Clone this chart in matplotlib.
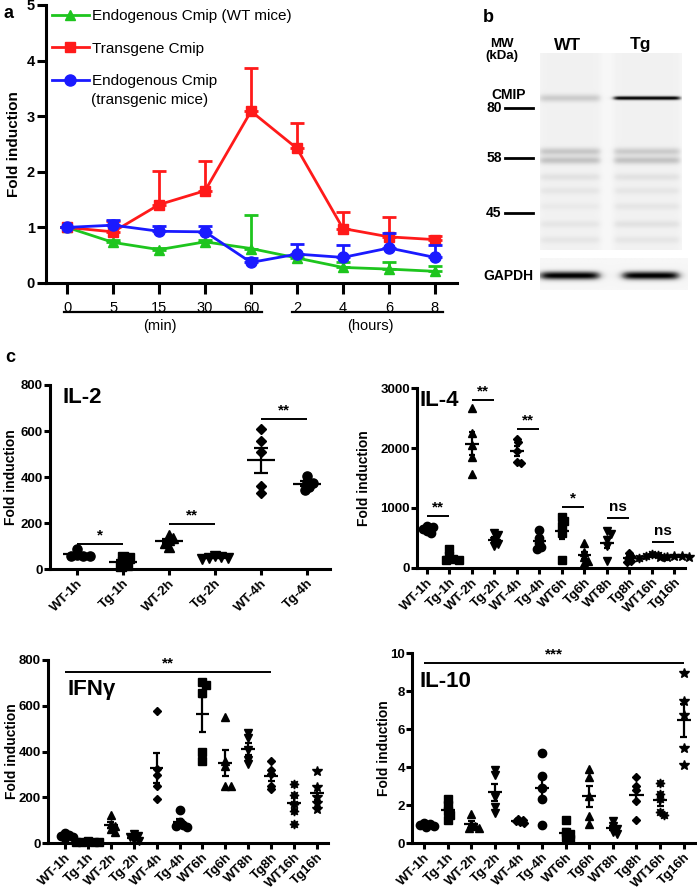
import numpy as np
import matplotlib
matplotlib.use("Agg")
import matplotlib.pyplot as plt
from matplotlib.transforms import ScaledTranslation

plt.rcParams['font.family'] = ['Liberation Sans', 'DejaVu Sans']

# ---------------- data: panel a ----------------
time_labels = ["0", "5", "15", "30", "60", "2", "4", "6", "8"]
wt_endo_mean = [1.0, 0.73, 0.60, 0.74, 0.62, 0.45, 0.28, 0.25, 0.21]
wt_endo_err = [0.0, 0.05, 0.03, 0.04, 0.60, 0.05, 0.09, 0.12, 0.09]
tg_trans_mean = [1.0, 0.92, 1.41, 1.66, 3.09, 2.42, 0.98, 0.83, 0.78]
tg_trans_err = [0.0, 0.20, 0.61, 0.53, 0.77, 0.46, 0.29, 0.35, 0.06]
tg_endo_mean = [1.0, 1.04, 0.93, 0.92, 0.37, 0.52, 0.46, 0.63, 0.46]
tg_endo_err = [0.0, 0.10, 0.10, 0.10, 0.08, 0.18, 0.22, 0.27, 0.22]
series_labels = ["Endogenous Cmip (WT mice)", "Transgene Cmip",
                 "Endogenous Cmip"]
series_label_extra = "(transgenic mice)"

# ---------------- data: panel b (blot) ----------------
blot_lanes = ["WT", "Tg"]
mw_labels = ["80", "58", "45"]
mw_pos = [0.279, 0.533, 0.812]           # migration (fraction of blot height)
band_pos = [0.228, 0.50, 0.545, 0.63, 0.70, 0.78, 0.87, 0.95]
band_wt = [0.20, 0.22, 0.24, 0.09, 0.07, 0.05, 0.07, 0.07]
band_tg = [0.95, 0.20, 0.24, 0.09, 0.07, 0.07, 0.09, 0.07]
gapdh = [0.95, 0.95]

# ---------------- data: panel c ----------------
il2_labels = ["WT-1h", "Tg-1h", "WT-2h", "Tg-2h", "WT-4h", "Tg-4h"]
il2_values = [[87, 60, 57, 55, 58],
              [53, 46, 30, 17, 12],
              [148, 135, 125, 115, 95],
              [55, 52, 50, 48, 45],
              [607, 558, 510, 361, 332],
              [405, 378, 372, 358, 345]]

time12_labels = ["WT-1h", "Tg-1h", "WT-2h", "Tg-2h", "WT-4h", "Tg-4h",
                 "WT6h", "Tg6h", "WT8h", "Tg8h", "WT16h", "Tg16h"]
il4_values = [[700, 680, 650, 620, 580],
              [320, 200, 150, 140, 130],
              [2660, 2250, 2050, 1850, 1560],
              [580, 550, 450, 400, 370],
              [2150, 2100, 1950, 1760, 1750],
              [636, 498, 420, 350, 310],
              [850, 780, 700, 580, 140],
              [420, 260, 180, 120, 80],
              [620, 560, 470, 360, 110],
              [250, 200, 160, 120, 100],
              [230, 210, 200, 190, 170],
              [200, 195, 190, 185, 180]]
ifng_values = [[45, 35, 30, 25, 20],
               [8, 6, 5, 4, 3],
               [121, 85, 75, 60, 50],
               [40, 30, 25, 15, 10],
               [575, 325, 298, 250, 192],
               [145, 90, 80, 75, 70],
               [705, 690, 655, 400, 360],
               [553, 360, 335, 250, 248],
               [482, 460, 405, 365, 345],
               [360, 320, 300, 250, 235],
               [260, 210, 170, 140, 85],
               [313, 245, 200, 175, 150]]
il10_values = [[1.05, 1.0, 0.95, 0.9, 0.85],
               [2.3, 2.0, 1.7, 1.5, 1.2],
               [1.55, 1.0, 0.9, 0.8, 0.8],
               [3.85, 3.6, 2.4, 1.9, 1.6],
               [1.25, 1.2, 1.15, 1.1, 1.05],
               [4.72, 3.55, 2.9, 2.3, 0.93],
               [1.2, 0.6, 0.45, 0.3, 0.2],
               [3.9, 3.45, 2.5, 1.4, 1.0],
               [1.15, 0.9, 0.75, 0.6, 0.5],
               [3.5, 3.0, 2.8, 2.2, 1.2],
               [3.15, 2.6, 2.3, 1.65, 1.5],
               [8.95, 7.5, 6.75, 5.0, 4.1]]

il2_sig = [(0, 1, 109, "*"), (2, 3, 196, "**"), (4, 5, 652, "**")]
il4_sig = [(0, 1, 874, "**"), (2, 3, 2795, "**"), (4, 5, 2324, "**"),
           (6, 7, 1024, "*"), (8, 9, 830, "ns"), (10, 11, 432, "ns")]
ifng_sig = [(0, 9, 749, "**")]
il10_sig = [(0, 11, 9.49, "***")]

markers = ['o', 's', '^', 'v', 'D', 'o', 's', '^', 'v', 'D', (8, 1, 0), '*']
msizes = [6, 6, 6, 6, 4.5, 6, 6, 6, 6, 4.5, 6.5, 7.5]

# ---------------- figure ----------------
W, H = 697, 893
fig = plt.figure(figsize=(W / 100, H / 100), dpi=100)


def px_axes(l, t, r, b):
    return fig.add_axes([l / W, 1 - b / H, (r - l) / W, (b - t) / H])


def ftext(x, y, s, **kw):
    fig.text(x / W, 1 - y / H, s, **kw)


def style_axes(ax, lw=2.2):
    for s in ("top", "right"):
        ax.spines[s].set_visible(False)
    for s in ("left", "bottom"):
        ax.spines[s].set_linewidth(lw)
    ax.tick_params(width=lw, length=4, direction='out')


# ---------------- panel a ----------------
ax = px_axes(46, 5, 457, 283)
x = np.arange(len(time_labels))
ax.set_xlim(-0.46, 8.48)
ax.set_ylim(0, 5)
style_axes(ax)
ax.tick_params(axis='both', labelsize=10.5)
ax.tick_params(axis='x', length=8, pad=5)
ax.tick_params(axis='y', length=6.5, pad=1.5)
ax.set_xticks(x)
ax.set_xticklabels(time_labels)
ax.set_yticks(range(6))
for t in ax.get_yticklabels():
    t.set_fontweight('bold')
ax.set_ylabel("Fold induction", fontsize=11, fontweight='bold')
ax.yaxis.set_label_coords((21 - 46) / 411, 0.5)
specs = [(wt_endo_mean, wt_endo_err, '#1ec51e', '^', 7.5),
         (tg_trans_mean, tg_trans_err, '#ff1a1a', 's', 7.5),
         (tg_endo_mean, tg_endo_err, '#1a1aff', 'o', 8)]
handles = []
for (m, e, c, mk, ms), lab in zip(specs, series_labels):
    m = np.array(m)
    e = np.array(e)
    ax.errorbar(x, m, yerr=[np.zeros_like(e), e], fmt='none', ecolor=c,
                elinewidth=2, capsize=5, capthick=2, clip_on=False)
    h, = ax.plot(x, m, color=c, marker=mk, ms=ms, lw=2, label=lab,
                 clip_on=False)
    handles.append(h)
leg = ax.legend(handles=handles, loc='upper left',
                bbox_to_anchor=(52 / W, 1 - 9 / H), bbox_transform=fig.transFigure,
                frameon=False, fontsize=11, handlelength=2.4,
                handletextpad=0.2, labelspacing=1.22, borderpad=0,
                borderaxespad=0)
ftext(91, 100, series_label_extra, ha='left', va='center', fontsize=11)
tr = ax.get_xaxis_transform()
ax.plot([-0.07, 4.24], [-0.104, -0.104], transform=tr, color='black', lw=1.6,
        clip_on=False)
ax.plot([4.89, 8.17], [-0.104, -0.104], transform=tr, color='black', lw=1.6,
        clip_on=False)
ax.text(2.02, -0.153, "(min)", transform=tr, ha='center', va='center',
        fontsize=10.5)
ax.text(6.59, -0.153, "(hours)", transform=tr, ha='center', va='center',
        fontsize=10.5)

# ---------------- panel b ----------------
ny, nx = 300, 160
yy = np.linspace(0, 1, ny)[:, None]
xx = np.linspace(0, 1, nx)[None, :]
lane_c = [0.21, 0.755]
lane_hw = [0.215, 0.235]


def lane_profile(c, hw):
    return 1 / (1 + np.exp((np.abs(xx - c) - hw) / 0.012))


img = np.full((ny, nx), 0.06)
for li, (c, hw) in enumerate(zip(lane_c, lane_hw)):
    prof = lane_profile(c, hw)
    inten = band_wt if li == 0 else band_tg
    img = img + 0.05 * prof * np.ones_like(yy)
    for p, a in zip(band_pos, inten):
        w = 0.010 if a > 0.5 else 0.02
        img = img + a * prof * np.exp(-((yy - p) / w) ** 2)
axb = px_axes(540, 53, 682, 250)
axb.imshow(np.clip(img, 0, 1), cmap='Greys', vmin=0, vmax=1,
           extent=(0, 1, 1, 0), aspect='auto', interpolation='bilinear')
axb.set_xlim(0, 1)
axb.set_ylim(1, 0)
axb.axis('off')
ytr = axb.get_yaxis_transform()
for lab, p in zip(mw_labels, mw_pos):
    axb.plot([-0.246, -0.05], [p, p], transform=ytr, color='black', lw=2,
             clip_on=False)
    axb.text(-0.27, p, lab, transform=ytr, ha='right', va='center',
             fontsize=10, fontweight='bold')

gy = np.linspace(0, 1, 60)[:, None]
gx = np.linspace(0, 1, nx)[None, :]
gimg = np.full((60, nx), 0.07)
for c, hw, a in zip([0.2, 0.75], [0.2, 0.19], gapdh):
    prof = 1 / (1 + np.exp((np.abs(gx - c) - hw) / 0.02))
    gimg = gimg + a * prof * np.exp(-((gy - 0.55) / 0.14) ** 2)
axg = px_axes(540, 258, 688, 290)
axg.imshow(np.clip(gimg, 0, 1), cmap='Greys', vmin=0, vmax=1,
           extent=(0, 1, 1, 0), aspect='auto', interpolation='bilinear')
axg.axis('off')

ftext(502, 50, "MW\n(kDa)", ha='center', va='center', fontsize=9.5,
      fontweight='bold', linespacing=1.0)
ftext(568, 45, blot_lanes[0], ha='center', va='center', fontsize=12.5,
      fontweight='bold')
ftext(640, 45, blot_lanes[1], ha='center', va='center', fontsize=12.5,
      fontweight='bold')
ftext(509, 95, "CMIP", ha='center', va='center', fontsize=10,
      fontweight='bold')
ftext(533, 276, "GAPDH", ha='right', va='center', fontsize=10,
      fontweight='bold')

# panel letters
ftext(3, 13, "a", ha='left', va='center', fontsize=13, fontweight='bold')
ftext(483, 17, "b", ha='left', va='center', fontsize=13, fontweight='bold')
ftext(5, 357, "c", ha='left', va='center', fontsize=13, fontweight='bold')


# ---------------- panel c ----------------
def swarm_x(ax, i, vals, size_px):
    pts = ax.transData.transform(np.column_stack([np.full(len(vals), float(i)),
                                                  vals]))
    x0 = pts[0, 0]
    placed = []
    xs = []
    step = size_px * 0.22
    cands = [0.0] + [s * step * j for j in range(1, 26) for s in (1, -1)]
    for y in pts[:, 1]:
        for c in cands:
            if all(np.hypot(c - px, y - py) >= size_px * 0.48 for px, py in placed):
                break
        placed.append((c, y))
        xs.append(x0 + c)
    back = ax.transData.inverted().transform(np.column_stack([xs, pts[:, 1]]))
    return back[:, 0]


def dot_panel(box, xlim, values, labels, ymax, ystep, title, title_xy,
              sigs, ylab_px, msc=1.0):
    ax = px_axes(*box)
    ax.set_xlim(*xlim)
    ax.set_ylim(0, ymax)
    style_axes(ax)
    ax.tick_params(axis='y', pad=1)
    n = len(values)
    ax.set_xticks(range(n))
    ax.set_xticklabels(labels, rotation=45, ha='right', va='top',
                       rotation_mode='anchor', fontsize=9.5, fontweight='bold')
    shift = ScaledTranslation(5 / 72, 0, fig.dpi_scale_trans)
    for t in ax.get_xticklabels():
        t.set_transform(t.get_transform() + shift)
    ax.tick_params(axis='x', pad=2)
    ax.set_yticks(np.arange(0, ymax + ystep / 2, ystep))
    for t in ax.get_yticklabels():
        t.set_fontweight('bold')
        t.set_fontsize(9.5)
    ax.set_ylabel("Fold induction", fontsize=10, fontweight='bold')
    ax.yaxis.set_label_coords((ylab_px - box[0]) / (box[2] - box[0]), 0.5)
    for i, v in enumerate(values):
        v = np.array(v, dtype=float)
        ms = msizes[i] * msc
        xs = swarm_x(ax, i, v, ms / 0.72 * 1.05)
        ax.plot(xs, v, linestyle='none', marker=markers[i], ms=ms,
                color='black', clip_on=False, zorder=3)
        m = v.mean()
        sem = v.std(ddof=1) / np.sqrt(len(v))
        ax.hlines(m, i - 0.3, i + 0.3, color='black', lw=1.6, zorder=4)
        ax.vlines(i, m - sem, m + sem, color='black', lw=1.6, zorder=4)
        ax.hlines([m - sem, m + sem], i - 0.15, i + 0.15, color='black',
                  lw=1.6, zorder=4)
    for i0, i1, y, s in sigs:
        ax.hlines(y, i0, i1, color='black', lw=1.4, clip_on=False)
        off = 8 if s == "ns" else 6
        ax.annotate(s, xy=((i0 + i1) / 2, y), xytext=(0, off),
                    textcoords='offset points', ha='center', va='center',
                    fontsize=11, fontweight='bold', annotation_clip=False)
    ax.text(title_xy[0], title_xy[1], title, transform=ax.transAxes,
            ha='left', va='center', fontsize=16, fontweight='bold')
    return ax


dot_panel((50, 385, 330, 569), (-0.587, 5.5), il2_values, il2_labels,
          800, 200, "IL-2", (0.045, 0.93), il2_sig, 18, msc=1.1)
dot_panel((417, 388, 685, 568), (-0.44, 11.47), il4_values, time12_labels,
          3000, 1000, "IL-4", (0.01, 0.93), il4_sig, 371)
dot_panel((48, 660, 328, 843), (-0.74, 11.48), ifng_values, time12_labels,
          800, 200, "IFN\u03b3", (0.07, 0.84), ifng_sig, 19)
dot_panel((412, 653, 695, 843), (-0.51, 11.48), il10_values, time12_labels,
          10, 2, "IL-10", (0.025, 0.85), il10_sig, 391)

fig.savefig("out.png", dpi=100)
